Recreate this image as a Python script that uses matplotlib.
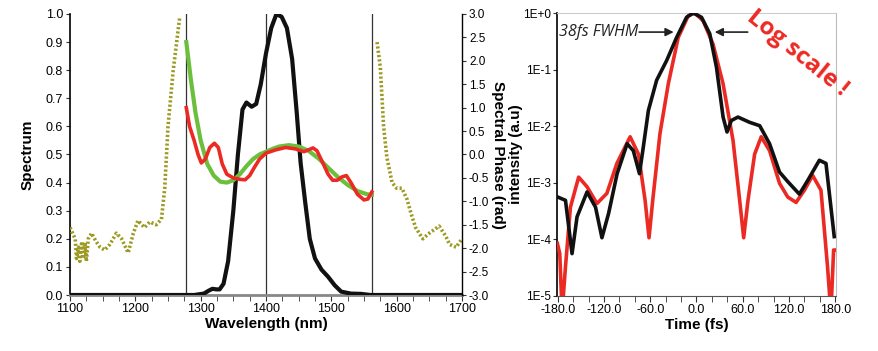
import numpy as np
import matplotlib
matplotlib.use("Agg")
import matplotlib.pyplot as plt
from matplotlib import font_manager as fm
from matplotlib.ticker import FixedLocator, FuncFormatter, MultipleLocator

# ---------------- data: left panel ----------------
spec_wl = [1100, 1290, 1305, 1312, 1318, 1324, 1329, 1335, 1342, 1350, 1357, 1364, 1370,
           1378, 1385, 1392, 1400, 1408, 1416, 1424, 1432, 1440, 1447, 1453, 1460, 1467,
           1475, 1485, 1495, 1505, 1515, 1530, 1545, 1560, 1700]
spec_val = [0.0, 0.0, 0.005, 0.015, 0.022, 0.02, 0.02, 0.04, 0.12, 0.3, 0.5, 0.66, 0.685,
            0.67, 0.68, 0.75, 0.86, 0.95, 1.0, 0.99, 0.95, 0.84, 0.65, 0.47, 0.33, 0.2,
            0.13, 0.09, 0.065, 0.035, 0.012, 0.005, 0.004, 0.0, 0.0]

green_wl = [1278, 1285, 1292, 1300, 1310, 1320, 1330, 1340, 1350, 1360, 1370, 1380, 1390,
            1400, 1410, 1420, 1435, 1450, 1465, 1480, 1495, 1510, 1525, 1540, 1555, 1562]
green_ph = [2.4, 1.6, 0.9, 0.3, -0.2, -0.45, -0.58, -0.6, -0.55, -0.42, -0.25, -0.1, 0.0,
            0.06, 0.12, 0.17, 0.2, 0.17, 0.08, -0.08, -0.28, -0.48, -0.65, -0.78, -0.85, -0.86]

red_wl = [1278, 1283, 1290, 1296, 1301, 1307, 1314, 1321, 1327, 1333, 1340, 1350, 1360, 1368,
          1375, 1382, 1390, 1400, 1415, 1430, 1445, 1458, 1465, 1472, 1478, 1487, 1495, 1502,
          1509, 1516, 1523, 1530, 1540, 1550, 1556, 1562]
red_ph = [1.0, 0.6, 0.3, 0.0, -0.18, -0.1, 0.15, 0.24, 0.15, -0.2, -0.42, -0.5, -0.53, -0.54,
          -0.45, -0.28, -0.1, 0.03, 0.1, 0.15, 0.12, 0.06, 0.1, 0.14, 0.08, -0.18, -0.42, -0.55,
          -0.55, -0.48, -0.45, -0.6, -0.85, -0.97, -0.95, -0.8]

dotL_wl = [1100, 1104, 1108, 1110, 1113, 1115, 1118, 1120, 1123, 1125, 1128, 1133, 1140, 1146,
           1153, 1161, 1171, 1179, 1189, 1197, 1204, 1214, 1222, 1232, 1240, 1245, 1250,
           1258, 1268]
dotL_val = [0.24, 0.22, 0.2, 0.13, 0.17, 0.12, 0.19, 0.13, 0.18, 0.12, 0.2, 0.22, 0.19, 0.17,
            0.16, 0.18, 0.22, 0.2, 0.15, 0.22, 0.265, 0.24, 0.26, 0.25, 0.27, 0.38, 0.6,
            0.8, 0.99]

dotR_wl = [1570, 1575, 1580, 1585, 1593, 1600, 1608, 1616, 1622, 1629, 1640, 1650, 1665,
           1675, 1681, 1691, 1700]
dotR_val = [0.9, 0.81, 0.6, 0.49, 0.4, 0.38, 0.38, 0.34, 0.29, 0.24, 0.2, 0.22, 0.245,
            0.21, 0.18, 0.17, 0.2]

vlines_wl = [1278, 1400, 1562]

# ---------------- data: right panel ----------------
blk_t = [-180, -170, -161.5, -155, -142, -131, -122.7, -114, -103, -90, -82, -74, -69,
         -62.4, -51.7, -38.7, -25.8, -12.9, -4.3, 6.5, 17.2, 25.9, 34.5, 39.6, 45.2,
         53.8, 69, 82, 94.8, 107.7, 118.4, 133.5, 144.3, 159.4, 168, 178.7]
blk_i = [5.6e-4, 4.9e-4, 5.6e-5, 2.5e-4, 6.9e-4, 3.7e-4, 1.07e-4, 2.9e-4, 1.45e-3, 4.9e-3,
         3.7e-3, 1.45e-3, 4.3e-3, 1.9e-2, 6.5e-2, 0.145, 0.37, 0.84, 1.0, 0.84, 0.43, 0.11,
         0.0145, 0.0079, 0.0126, 0.0145, 0.0117, 0.0102, 0.0049, 0.00155, 0.00105, 0.00063,
         0.0011, 0.0025, 0.0022, 0.000112]

red_t = [-180.5, -177.4, -174.4, -170, -163.6, -152.9, -142, -129.2, -116.3, -103.3, -86.1,
         -75.3, -66.7, -61.6, -56.8, -47.4, -36.6, -23.7, -10.8, -2.2, 8.6, 21.5, 34.5, 47.4,
         56, 61.2, 66.8, 75.4, 84, 94.8, 107.7, 118.4, 129.2, 140, 150.7, 161.5, 170, 174.4,
         177.9, 179.5]
red_i = [8.5e-5, 5.6e-5, 5e-6, 3.3e-5, 3.7e-4, 1.26e-3, 8.5e-4, 4.3e-4, 6.5e-4, 2.2e-3,
         6.5e-3, 3.2e-3, 4.9e-4, 1.07e-4, 4.9e-4, 7.4e-3, 0.056, 0.37, 0.89, 1.0, 0.73, 0.28,
         0.056, 0.0056, 4.9e-4, 1.07e-4, 4.9e-4, 3.2e-3, 6.5e-3, 3.7e-3, 9.8e-4, 5.6e-4,
         4.5e-4, 7.4e-4, 1.35e-3, 7.4e-4, 3.3e-5, 5e-6, 6.5e-5, 6.5e-5]

time_ticks = [-180, -120, -60, 0, 60, 120, 180]
log_ticks = [1e-5, 1e-4, 1e-3, 1e-2, 1e-1, 1e0]
log_labels = ["1E-5", "1E-4", "1E-3", "1E-2", "1E-1", "1E+0"]

# ---------------- fonts ----------------
names = {f.name for f in fm.fontManager.ttflist}
narrow = "Liberation Sans Narrow" if "Liberation Sans Narrow" in names else "Liberation Sans"
plt.rcParams['font.family'] = [narrow, 'DejaVu Sans']

C_GREEN = "#6cbf3c"
C_RED = "#ec2a24"
C_OLIVE = "#9c9a22"
C_BLACK = "#111111"
TICK_FS = 9

fig = plt.figure(figsize=(8.79, 3.51), dpi=100)

# ---------------- left panel ----------------
ax1 = fig.add_axes([70/879, 1-295/351, 392/879, 281/351])
ax2 = ax1.twinx()

ax1.plot(dotL_wl, dotL_val, color=C_OLIVE, lw=2.6, ls=(0, (0.6, 0.6)), zorder=3)
ax1.plot(dotR_wl, dotR_val, color=C_OLIVE, lw=2.6, ls=(0, (0.6, 0.6)), zorder=3)
for v in vlines_wl:
    ax1.axvline(v, color="#333333", lw=0.9, zorder=2)
ax1.plot(spec_wl, spec_val, color=C_BLACK, lw=3.0, zorder=5, solid_capstyle='round')

ax2.plot(green_wl, green_ph, color=C_GREEN, lw=3.0, zorder=4)
ax2.plot(red_wl, red_ph, color=C_RED, lw=2.6, zorder=5)

ax1.set_xlim(1100, 1700)
ax1.set_ylim(0, 1.0)
ax2.set_ylim(-3.0, 3.0)
ax1.xaxis.set_major_locator(MultipleLocator(100))
ax1.xaxis.set_minor_locator(MultipleLocator(25))
ax1.yaxis.set_major_locator(MultipleLocator(0.1))
ax2.yaxis.set_major_locator(MultipleLocator(0.5))
ax1.yaxis.set_major_formatter(FuncFormatter(lambda v, p: f"{v:.1f}"))
ax2.yaxis.set_major_formatter(FuncFormatter(lambda v, p: f"{v:.1f}"))

for a in (ax1, ax2):
    a.spines['top'].set_visible(False)
    a.tick_params(axis='both', which='both', direction='out', labelsize=TICK_FS,
                  color="#333333")
ax1.spines['right'].set_visible(False)
ax2.spines['left'].set_visible(False)
ax2.spines['bottom'].set_visible(False)
ax1.spines['bottom'].set_color("#888888")
ax1.spines['bottom'].set_linewidth(2.0)
ax1.spines['left'].set_linewidth(1.2)
ax2.spines['right'].set_linewidth(1.0)
ax1.tick_params(axis='x', which='major', length=4, pad=2)
ax1.tick_params(axis='x', which='minor', length=4)
ax1.tick_params(axis='y', length=3, pad=2)
ax2.tick_params(axis='y', length=3, pad=2, labelsize=8.5)

ax1.set_xlabel("Wavelength (nm)", fontsize=11, fontweight='bold', labelpad=1)
ax1.set_ylabel("Spectrum", fontsize=11, fontweight='bold')
ax1.yaxis.set_label_coords((35-70)/392, 0.5)
ax2.set_ylabel("Spectral Phase (rad)", fontsize=11, fontweight='bold', rotation=270,
               va='center')
ax2.yaxis.set_label_coords((498-70)/392, 0.5)

# ---------------- right panel ----------------
ax3 = fig.add_axes([557/879, 1-296/351, 279/879, 283/351])
ax3.plot(red_t, red_i, color=C_RED, lw=2.6, zorder=3)
ax3.plot(blk_t, blk_i, color=C_BLACK, lw=2.6, zorder=4)
ax3.set_yscale('log')
ax3.set_xlim(-181, 181)
ax3.set_ylim(1e-5, 1.0)
ax3.xaxis.set_major_locator(FixedLocator(time_ticks))
ax3.xaxis.set_minor_locator(MultipleLocator(20))
ax3.xaxis.set_major_formatter(FuncFormatter(lambda v, p: f"{v:.1f}"))
ax3.yaxis.set_major_locator(FixedLocator(log_ticks))
ax3.yaxis.set_minor_locator(FixedLocator([]))
ax3.set_yticklabels(log_labels)
ax3.tick_params(axis='both', which='both', direction='out', labelsize=TICK_FS,
                color="#333333")
ax3.tick_params(axis='x', which='both', length=4, pad=2)
ax3.tick_params(axis='y', length=3, pad=1.5, labelsize=8.5)
ax3.spines['top'].set_color("#cccccc")
ax3.spines['right'].set_color("#bbbbbb")
ax3.spines['bottom'].set_color("#555555")
ax3.spines['left'].set_linewidth(1.2)
ax3.set_xlabel("Time (fs)", fontsize=11, fontweight='bold', labelpad=1)
ax3.set_ylabel("intensity (a.u)", fontsize=11, fontweight='bold', va='center')
ax3.yaxis.set_label_coords((516-557)/279, 0.5)

# annotations
ax3.text(-179, 0.46, "38fs FWHM", fontsize=11.5, style='italic', color="#222222",
         family=['Open Sans', 'DejaVu Sans'], va='center', ha='left')
ax3.annotate("", xy=(-26, 0.46), xytext=(-78, 0.46),
             arrowprops=dict(arrowstyle='-|>', color="#222222", lw=1.2, mutation_scale=12))
ax3.annotate("", xy=(20, 0.46), xytext=(70, 0.46),
             arrowprops=dict(arrowstyle='-|>', color="#222222", lw=1.2, mutation_scale=12))

fig.text(797/879, 1-53/351, "Log scale !", fontsize=17.5, fontweight='bold', color=C_RED,
         rotation=-39, ha='center', va='center', family=['Open Sans', 'DejaVu Sans'])

fig.savefig("out.png", dpi=100)
